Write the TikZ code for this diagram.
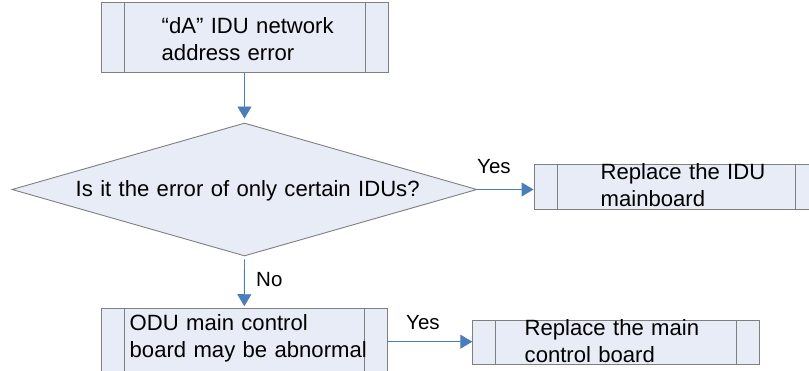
\documentclass[tikz,border=0pt]{standalone}
\usepackage{fontspec}
\setmainfont{Liberation Sans}
\usetikzlibrary{arrows.meta,shapes.geometric}
\definecolor{boxfill}{HTML}{E8ECF6}
\definecolor{boxline}{HTML}{7F7F7F}
\definecolor{arrowblue}{HTML}{4A7EBB}
\tikzset{
  procbox/.style={draw=boxline, line width=0.9pt, fill=boxfill, inner sep=0pt,
    path picture={\draw[boxline, line width=0.9pt]
      ([xshift=23pt]path picture bounding box.north west) -- ([xshift=23pt]path picture bounding box.south west)
      ([xshift=-23pt]path picture bounding box.north east) -- ([xshift=-23pt]path picture bounding box.south east);}},
  decision/.style={draw=boxline, line width=0.9pt, fill=boxfill, diamond, inner sep=0pt},
  txt/.style={font=\fontsize{22.1}{26.8}\selectfont, inner sep=0pt, text width=420pt, align=left, anchor=base west},
  lbl/.style={font=\fontsize{20.5}{24}\selectfont, inner sep=0pt, anchor=base west},
  conn/.style={draw=arrowblue, line width=0.9pt, -{Triangle[length=12pt,width=14pt]}, arrowblue}
}
\begin{document}
\begin{tikzpicture}[x=1pt, y=-1pt]
\useasboundingbox (0,0) rectangle (809,371);
\clip (0,0) rectangle (809,371);
% boxes
\node[procbox, minimum width=287pt, minimum height=70pt] (b1) at (244.5,37.3) {};
\node[decision, minimum width=465pt, minimum height=133pt] (d) at (244.5,189.5) {};
\node[procbox, minimum width=284pt, minimum height=45pt] (b2) at (676,186.5) {};
\node[procbox, minimum width=285.5pt, minimum height=67pt] (b3) at (244.3,341.7) {};
\node[procbox, minimum width=286.3pt, minimum height=44pt] (b4) at (615.9,342) {};
% texts
\node[txt] (t1) at (161.5,33.3) {“dA” IDU network\\address error};
\node[txt] (t2) at (75.5,196.7) {Is it the error of only certain IDUs?};
\node[txt] (t3) at (600.5,179.3) {Replace the IDU\\mainboard};
\node[txt] (t4) at (129.5,331) {ODU main control\\board may be abnormal};
\node[txt] (t5) at (524.5,336) {Replace the main\\control board};
% connectors
\draw[conn, shorten >=4pt] (b1.south) -- (d.north);
\draw[conn] (d.east) -- (d.east -| b2.west);
\draw[conn, shorten <=3pt, shorten >=1.5pt] (d.south) -- (b3.north);
\draw[conn] (b3.east) -- (b3.east -| b4.west);
% labels
\node[lbl] (yes1) at (477,174) {Yes};
\node[lbl] (no1) at (256,286.7) {No};
\node[lbl] (yes2) at (406,330) {Yes};
\end{tikzpicture}
\end{document}
